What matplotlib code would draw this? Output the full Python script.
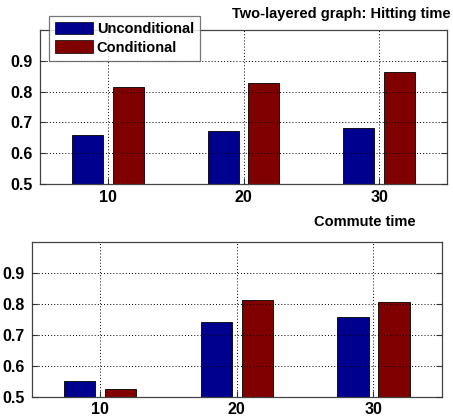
import numpy as np
import matplotlib
matplotlib.use("Agg")
import matplotlib.pyplot as plt
from matplotlib.patches import Patch

# Data
groups = [10, 20, 30]
series_names = ["Unconditional", "Conditional"]
hitting_uncond = [0.659, 0.672, 0.682]
hitting_cond = [0.816, 0.829, 0.863]
commute_uncond = [0.551, 0.742, 0.757]
commute_cond = [0.524, 0.814, 0.808]
yticks = [0.5, 0.6, 0.7, 0.8, 0.9]

colors = ["#00008F", "#800000"]
plt.rcParams["font.family"] = ["Liberation Sans", "DejaVu Sans"]

fig = plt.figure(figsize=(4.53, 4.20), dpi=100)
ax1 = fig.add_axes([0.0883, 0.5619, 0.8985, 0.3667])
ax2 = fig.add_axes([0.0706, 0.0555, 0.9044, 0.3674])

offset = 1.5
width = 2.3
x = np.array(groups, dtype=float)


def draw(ax, u, c):
    ax.bar(x - offset, u, width, color=colors[0], edgecolor="black", linewidth=0.6, zorder=1)
    ax.bar(x + offset, c, width, color=colors[1], edgecolor="black", linewidth=0.6, zorder=1)
    ax.set_xlim(5, 35)
    ax.set_ylim(0.5, 1.0)
    ax.set_xticks(groups)
    ax.set_xticklabels([str(g) for g in groups])
    ax.set_yticks(yticks)
    ax.set_yticklabels([f"{t:.1f}" for t in yticks])
    ax.grid(True, linestyle=(0, (1, 2.2)), color="black", linewidth=0.7, zorder=3)
    ax.set_axisbelow(False)
    ax.tick_params(direction="in", length=4, width=0.8, color="#333333",
                   labelsize=11.5, right=True, top=False)
    ax.tick_params(axis="y", pad=5)
    ax.tick_params(axis="x", pad=4)
    for lab in ax.get_xticklabels() + ax.get_yticklabels():
        lab.set_fontweight("bold")
    for s in ax.spines.values():
        s.set_color("#444444")
        s.set_linewidth(0.9)


draw(ax1, hitting_uncond, hitting_cond)
draw(ax2, commute_uncond, commute_cond)

fig.text(0.753, 0.966, "Two-layered graph: Hitting time", ha="center", va="center",
         fontsize=10.5, fontweight="bold")
fig.text(0.806, 0.471, "Commute time", ha="center", va="center",
         fontsize=10.5, fontweight="bold")

handles = [Patch(facecolor=colors[0], edgecolor="black", linewidth=0.5),
           Patch(facecolor=colors[1], edgecolor="black", linewidth=0.5)]
leg = fig.legend(handles, series_names, loc="upper left",
                 bbox_to_anchor=(49 / 453, 1 - 15.5 / 420),
                 fontsize=10.5, frameon=True, fancybox=False,
                 handlelength=2.62, handleheight=0.92, handletextpad=0.23,
                 borderpad=0.42, labelspacing=0.32, borderaxespad=0.0)
leg.get_frame().set_edgecolor("#555555")
leg.get_frame().set_linewidth(0.9)
for t in leg.get_texts():
    t.set_fontweight("bold")

fig.savefig("out.png", dpi=100)
